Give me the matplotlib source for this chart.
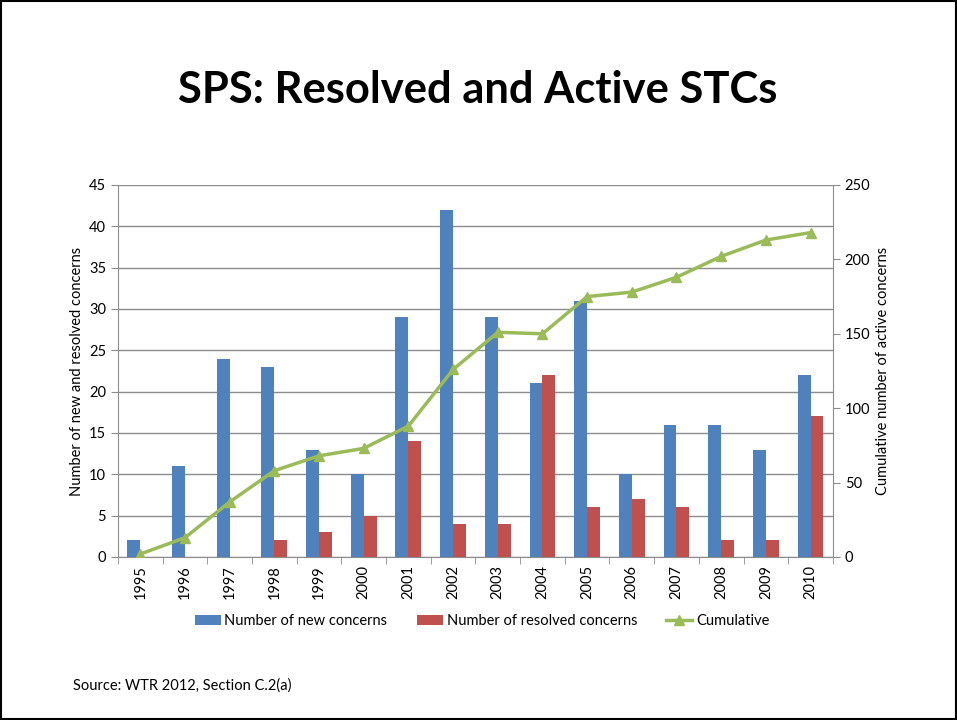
import numpy as np
import matplotlib
matplotlib.use("Agg")
import matplotlib.pyplot as plt
from matplotlib.ticker import FixedLocator

plt.rcParams['font.family'] = ['Lato', 'DejaVu Sans']

years = ['1995', '1996', '1997', '1998', '1999', '2000', '2001', '2002',
         '2003', '2004', '2005', '2006', '2007', '2008', '2009', '2010']
new_concerns = [2, 11, 24, 23, 13, 10, 29, 42, 29, 21, 31, 10, 16, 16, 13, 22]
resolved_concerns = [0, 0, 0, 2, 3, 5, 14, 4, 4, 22, 6, 7, 6, 2, 2, 17]
cumulative = [2, 13, 37, 58, 68, 73, 88, 126, 151, 150, 175, 178, 188, 202, 213, 218]

blue = '#4F81BD'
red = '#C0504D'
green = '#9BBB59'
grid = '#8C8C8C'

fig = plt.figure(figsize=(9.57, 7.2), dpi=100)
# slide border
fig.patches.append(plt.Rectangle((0.001, 0.001), 0.998, 0.998, transform=fig.transFigure,
                                 fill=False, edgecolor='black', linewidth=1.5))

ax = fig.add_axes([0.1233, 0.2264, 0.747, 0.5167])
x = np.arange(len(years))
w = 0.29
b1 = ax.bar(x - w / 2, new_concerns, w, color=blue, label='Number of new concerns', zorder=2)
b2 = ax.bar(x + w / 2, resolved_concerns, w, color=red, label='Number of resolved concerns', zorder=2)

ax.set_xlim(-0.5, len(years) - 0.5)
ax.set_ylim(0, 45)
ax.set_yticks(range(0, 46, 5))
ax.set_xticks(x)
ax.set_xticklabels(years, rotation=90)
ax.xaxis.set_minor_locator(FixedLocator(np.arange(-0.5, len(years), 1)))
ax.tick_params(axis='x', which='major', length=0, pad=6, labelsize=10.5)
ax.tick_params(axis='x', which='minor', length=5, color=grid)
ax.tick_params(axis='y', length=5, color=grid, labelsize=10.5)
ax.yaxis.grid(True, color=grid, linewidth=1, zorder=0)
ax.set_axisbelow(True)
for s in ['top', 'right']:
    ax.spines[s].set_visible(False)
for s in ['left', 'bottom']:
    ax.spines[s].set_color(grid)
ax.set_ylabel('Number of new and resolved concerns', fontsize=10.5)

ax2 = ax.twinx()
ln, = ax2.plot(x, cumulative, color=green, linewidth=2.5, marker='^', markersize=7,
               label='Cumulative', zorder=3)
ax2.set_ylim(0, 250)
ax2.set_yticks(range(0, 251, 50))
ax2.tick_params(axis='y', length=5, color=grid, labelsize=10.5)
for s in ['top', 'left', 'bottom']:
    ax2.spines[s].set_visible(False)
ax2.spines['right'].set_color(grid)
ax2.set_ylabel('Cumulative number of active concerns', fontsize=10.5)

fig.legend([b1, b2, ln], ['Number of new concerns', 'Number of resolved concerns', 'Cumulative'],
           loc='center', bbox_to_anchor=(482 / 957, 1 - 621 / 720), ncol=3, frameon=False,
           fontsize=10.5, handlelength=1.8, handleheight=0.66, columnspacing=2.0,
           handletextpad=0.25)

fig.text(478 / 957, 1 - 90 / 720, 'SPS: Resolved and Active STCs', ha='center', va='center',
         fontsize=31.3, fontweight='bold')
fig.text(73 / 957, 1 - 686 / 720, 'Source: WTR 2012, Section C.2(a)', ha='left', va='center',
         fontsize=10.5)

fig.savefig('out.png', dpi=100)
